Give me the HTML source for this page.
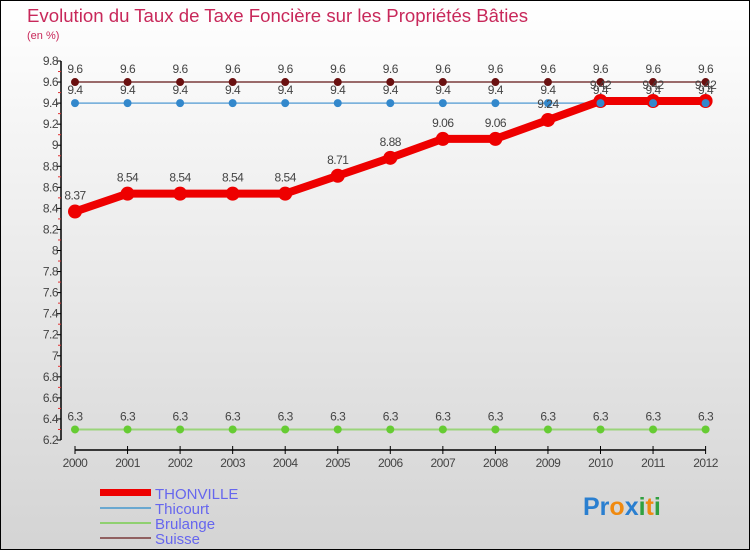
<!DOCTYPE html>
<html><head><meta charset="utf-8"><style>
body{margin:0;width:750px;height:550px;overflow:hidden}
svg text{font-family:"Liberation Sans","DejaVu Sans",sans-serif}
</style></head><body>
<svg width="750" height="550" xmlns="http://www.w3.org/2000/svg" id="chart">
<defs><linearGradient id="bg" x1="0" y1="0" x2="0" y2="1"><stop offset="0" stop-color="#ffffff"/><stop offset="1" stop-color="#d4d4d4"/></linearGradient></defs>
<rect x="0.5" y="0.5" width="749" height="549" fill="url(#bg)" stroke="#000"/>
<text x="27" y="22" font-size="18" fill="#c8285a" textLength="501" lengthAdjust="spacingAndGlyphs">Evolution du Taux de Taxe Foncière sur les Propriétés Bâties</text>
<text x="27" y="39" font-size="11" fill="#c8285a">(en %)</text>
<g id="axes"></g><g id="series"></g>
<g>
<rect x="100" y="489" width="51" height="7" fill="#ee0000"/>
<line x1="100" y1="508" x2="151" y2="508" stroke="#6aa8d0" stroke-width="2"/>
<line x1="100" y1="523" x2="151" y2="523" stroke="#8fd070" stroke-width="2"/>
<line x1="100" y1="538" x2="151" y2="538" stroke="#906060" stroke-width="2"/>
<text x="155" y="499" font-size="15" fill="#6666ee">THONVILLE</text>
<text x="155" y="514" font-size="15" fill="#6666ee">Thicourt</text>
<text x="155" y="529" font-size="15" fill="#6666ee">Brulange</text>
<text x="155" y="544" font-size="15" fill="#6666ee">Suisse</text>
</g>
<text x="583" y="515" font-size="25" font-weight="bold"><tspan fill="#2a7fd0">Pr</tspan><tspan fill="#f08a10">o</tspan><tspan fill="#2a7fd0">x</tspan><tspan fill="#30a040">i</tspan><tspan fill="#f08a10">t</tspan><tspan fill="#30a040">i</tspan></text>
</svg>
<script>
const years=["2000","2001","2002","2003","2004","2005","2006","2007","2008","2009","2010","2011","2012"];
const yTicks=[6.2,6.4,6.6,6.8,7,7.2,7.4,7.6,7.8,8,8.2,8.4,8.6,8.8,9,9.2,9.4,9.6,9.8];
const thonville=[8.37,8.54,8.54,8.54,8.54,8.71,8.88,9.06,9.06,9.24,9.42,9.42,9.42];
const thicourt=[9.4,9.4,9.4,9.4,9.4,9.4,9.4,9.4,9.4,9.4,9.4,9.4,9.4];
const brulange=[6.3,6.3,6.3,6.3,6.3,6.3,6.3,6.3,6.3,6.3,6.3,6.3,6.3];
const suisse=[9.6,9.6,9.6,9.6,9.6,9.6,9.6,9.6,9.6,9.6,9.6,9.6,9.6];
const NS="http://www.w3.org/2000/svg";
const X=i=>75+i*52.55;
const Y=v=>440-(v-6.2)/3.6*379;
function mk(t,a,p,txt){const e=document.createElementNS(NS,t);for(const k in a)e.setAttribute(k,a[k]);if(txt!=null)e.textContent=txt;p.appendChild(e);return e;}
const ax=document.getElementById('axes');
let e=mk('line',{x1:61,y1:Y(9.8),x2:61,y2:440,stroke:'#000','stroke-width':1.5},ax);

yTicks.forEach((t,i)=>{
 let l=mk('line',{x1:57,y1:Y(t),x2:61,y2:Y(t),stroke:'#000'},ax);
 
 let tx=mk('text',{x:58,y:Y(t)+4,'font-size':12,'text-anchor':'end',fill:'#444','letter-spacing':'-0.5'},ax,String(t));
 
 if(i<yTicks.length-1){let m=mk('line',{x1:58,y1:Y(t+0.1),x2:61,y2:Y(t+0.1),stroke:'#e03030'},ax);
 }
});
e=mk('line',{x1:X(0),y1:450,x2:X(12),y2:450,stroke:'#000','stroke-width':1.5},ax);

years.forEach((y,i)=>{
 let l=mk('line',{x1:X(i),y1:446,x2:X(i),y2:454,stroke:'#000'},ax);
 
 let tx=mk('text',{x:X(i),y:467,'font-size':12,'text-anchor':'middle',fill:'#444','letter-spacing':'-0.5'},ax,y);
 
});
const sg=document.getElementById('series');
function series(name,vals,col,dot,w,r){
 const g=mk('g',{},sg);
 
 let p=mk('polyline',{points:vals.map((v,i)=>X(i)+','+Y(v)).join(' '),fill:'none',stroke:col,'stroke-width':w,'stroke-linejoin':'round'},g);
 
 vals.forEach((v,i)=>{
  let c=mk('circle',{cx:X(i),cy:Y(v),r:r,fill:dot},g);
  
  let t=mk('text',{x:X(i),y:Y(v)-(r+5),'font-size':12,'text-anchor':'middle',fill:'#444','letter-spacing':'-0.5'},g,String(v));
  
 });
}
series('brulange',brulange,'#9ad47a','#66cc33',2,4);
series('suisse',suisse,'#7a3a3a','#6a1010',1.5,4);
series('thicourt',thicourt,'#6aa8d8','#3388cc',1.5,4);
series('thonville',thonville,'#ee0000','#ee0000',8,7);
thicourt.forEach((v,i)=>{if(i>=10){let c=mk('circle',{cx:X(i),cy:Y(v),r:4,fill:'#3388cc'},sg);
}});
</script>
</body></html>
